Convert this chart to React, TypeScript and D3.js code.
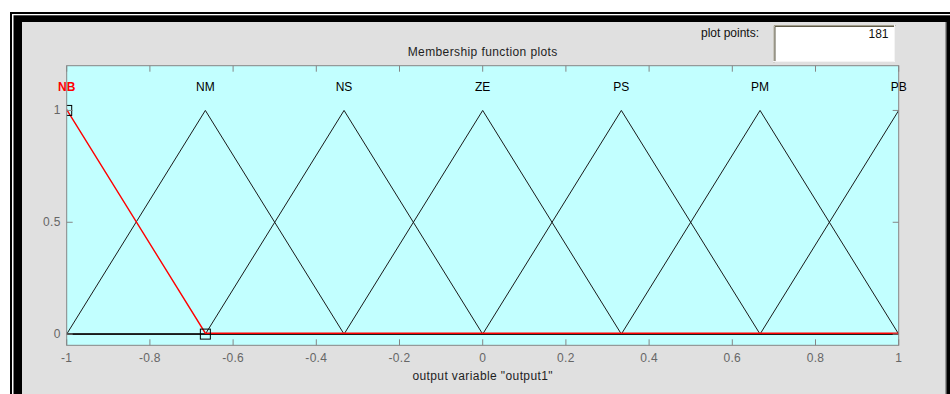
import React from 'react';
import * as d3 from 'd3';

// Membership functions of the output variable (triangular: [a, b, c])
const mfNames: string[] = ['NB', 'NM', 'NS', 'ZE', 'PS', 'PM', 'PB'];
const mfParams: [number, number, number][] = [
  [-1.3333, -1, -0.6667],
  [-1, -0.6667, -0.3333],
  [-0.6667, -0.3333, 0],
  [-0.3333, 0, 0.3333],
  [0, 0.3333, 0.6667],
  [0.3333, 0.6667, 1],
  [0.6667, 1, 1.3333],
];
const selectedMf = 'NB';

const xDomain: [number, number] = [-1, 1];
const yDomain: [number, number] = [-0.05, 1.2];
const xTicks: number[] = [-1, -0.8, -0.6, -0.4, -0.2, 0, 0.2, 0.4, 0.6, 0.8, 1];
const xTickLabels: string[] = ['-1', '-0.8', '-0.6', '-0.4', '-0.2', '0', '0.2', '0.4', '0.6', '0.8', '1'];
const yTicks: number[] = [0, 0.5, 1];
const yTickLabels: string[] = ['0', '0.5', '1'];
const labelLevel = 1.1;

const titleText = 'Membership function plots';
const xLabelText = 'output variable "output1"';
const plotPointsLabel = 'plot points:';
const plotPoints = 181;

const W = 950;
const H = 394;
const plot = { left: 66.7, right: 898.7, top: 65.7, bottom: 345.3 };

const FONT = '"Liberation Sans", Arial, sans-serif';

function trimf(x: number, [a, b, c]: [number, number, number]): number {
  const l = b === a ? (x >= b ? 1 : 0) : (x - a) / (b - a);
  const r = c === b ? (x <= b ? 1 : 0) : (c - x) / (c - b);
  return Math.max(0, Math.min(l, r, 1));
}

// Polyline vertices of a triangle across the visible universe
function mfVertices(p: [number, number, number]): [number, number][] {
  const xs = [xDomain[0], ...p, xDomain[1]]
    .filter((v) => v >= xDomain[0] && v <= xDomain[1])
    .sort((u, v) => u - v);
  const uniq = xs.filter((v, i) => i === 0 || Math.abs(v - xs[i - 1]) > 1e-9);
  return uniq.map((x) => [x, trimf(x, p)]);
}

export default function App() {
  const x = d3.scaleLinear().domain(xDomain).range([plot.left, plot.right]);
  const y = d3.scaleLinear().domain(yDomain).range([plot.bottom, plot.top]);
  const line = d3
    .line<[number, number]>()
    .x((d) => x(d[0]))
    .y((d) => y(d[1]));

  const tickLen = 6;
  const boxColor = '#858585';
  const tickTextColor = '#666666';

  const selIdx = mfNames.indexOf(selectedMf);
  const others = mfNames.map((_, i) => i).filter((i) => i !== selIdx);

  const markerSize = 10;

  return (
    <div style={{ position: 'fixed', left: 0, top: 0, width: W, height: H, background: '#fff' }}>
      <svg width={W} height={H} style={{ display: 'block' }}>
        <defs>
          <clipPath id="plotClip">
            <rect x={plot.left} y={plot.top} width={plot.right - plot.left} height={plot.bottom - plot.top} />
          </clipPath>
        </defs>

        {/* window frame */}
        <rect x={10} y={12} width={W - 10} height={H - 12} fill="#000" />
        <rect x={12} y={14} width={W - 12} height={H - 14} fill="#fff" />
        <rect x={13.5} y={15.3} width={W - 13.5} height={H - 15.3} fill="#000" />
        <rect x={22} y={22} width={923.5} height={H - 22} fill="#e0e0e0" />
        <rect x={945} y={22} width={1.5} height={H - 22} fill="#9c9c9c" />

        {/* plot points control */}
        <text x={759} y={36.5} textAnchor="end" fontFamily={FONT} fontSize={12} fill="#111">
          {plotPointsLabel}
        </text>
        <rect x={773.5} y={25} width={121.5} height={37} fill="#fff" />
        <path d="M773.5,62 V25 H895" fill="none" stroke="#a29e8c" strokeWidth={1} transform="translate(0.5,0.5)" />
        <path d="M774.5,61 V26 H894" fill="none" stroke="#5e5a48" strokeWidth={1} transform="translate(0.5,0.5)" />
        <path d="M773.5,62 H895 V25" fill="none" stroke="#f4f4f4" strokeWidth={1} transform="translate(-0.5,-0.5)" />
        <text x={888.5} y={38} textAnchor="end" fontFamily={FONT} fontSize={12} fill="#111">
          {plotPoints}
        </text>

        {/* title */}
        <text x={(plot.left + plot.right) / 2} y={55.5} textAnchor="middle" fontFamily={FONT} fontSize={12} letterSpacing={0.4} fill="#1e1e1e">
          {titleText}
        </text>

        {/* axes background */}
        <rect x={plot.left} y={plot.top} width={plot.right - plot.left} height={plot.bottom - plot.top} fill="#c2ffff" />

        {/* membership function curves */}
        <g clipPath="url(#plotClip)">
          {others.map((i) => (
            <path
              key={mfNames[i]}
              d={line(mfVertices(mfParams[i])) || ''}
              fill="none"
              stroke="#1a1a1a"
              strokeWidth={1}
            />
          ))}
          {/* selected function drawn on top, sitting on the upper pixel row */}
          <g transform="translate(0,-0.9)">
            <path
              d={line(mfVertices(mfParams[selIdx])) || ''}
              fill="none"
              stroke="#ff0000"
              strokeWidth={1.4}
            />
          </g>
          {mfParams[selIdx].map((px, k) => {
            const py = trimf(px, mfParams[selIdx]);
            return (
              <rect
                key={k}
                x={x(px) - markerSize / 2}
                y={y(py) - markerSize / 2}
                width={markerSize}
                height={markerSize}
                fill="none"
                stroke="#000"
                strokeWidth={1}
              />
            );
          })}
        </g>

        {/* membership function labels */}
        {mfNames.map((name, i) => {
          const sel = i === selIdx;
          return (
            <text
              key={name}
              x={x(mfParams[i][1])}
              y={y(labelLevel) + 3}
              textAnchor="middle"
              fontFamily={FONT}
              fontSize={12}
              fontWeight={sel ? 'bold' : 'normal'}
              fill={sel ? '#ff0000' : '#000'}
            >
              {name}
            </text>
          );
        })}

        {/* ticks on all four sides */}
        <g stroke={boxColor} strokeWidth={1}>
          {xTicks.map((t) => (
            <g key={'xt' + t}>
              <line x1={x(t)} x2={x(t)} y1={plot.bottom} y2={plot.bottom - tickLen} />
              <line x1={x(t)} x2={x(t)} y1={plot.top} y2={plot.top + tickLen} />
            </g>
          ))}
          {yTicks.map((t) => (
            <g key={'yt' + t}>
              <line x1={plot.left} x2={plot.left + tickLen} y1={y(t)} y2={y(t)} />
              <line x1={plot.right} x2={plot.right - tickLen} y1={y(t)} y2={y(t)} />
            </g>
          ))}
        </g>
        <rect
          x={plot.left}
          y={plot.top}
          width={plot.right - plot.left}
          height={plot.bottom - plot.top}
          fill="none"
          stroke={boxColor}
          strokeWidth={1}
        />

        {/* tick labels */}
        {xTicks.map((t, i) => (
          <text key={'xl' + t} x={x(t)} y={361.5} textAnchor="middle" fontFamily={FONT} fontSize={12} letterSpacing={0.3} fill={tickTextColor}>
            {xTickLabels[i]}
          </text>
        ))}
        {yTicks.map((t, i) => (
          <text key={'yl' + t} x={plot.left - 6} y={y(t) + 4} textAnchor="end" fontFamily={FONT} fontSize={12} letterSpacing={0.3} fill={tickTextColor}>
            {yTickLabels[i]}
          </text>
        ))}

        {/* x-axis label */}
        <text x={(plot.left + plot.right) / 2} y={380} textAnchor="middle" fontFamily={FONT} fontSize={12} letterSpacing={0.4} fill="#1e1e1e">
          {xLabelText}
        </text>
      </svg>
    </div>
  );
}
